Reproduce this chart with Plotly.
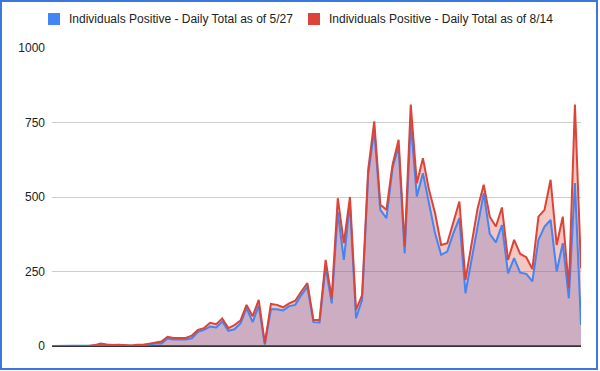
import plotly.graph_objects as go

days = list(range(88))

positive_5_27 = [0, 0, 0, 0, 0, 0, 0, 2, 5, 3, 2, 3, 1, 1, 2, 3, 5, 8, 8, 25,
                 22, 22, 22, 26, 48, 54, 65, 62, 82, 51, 56, 76, 127, 80, 136, 5, 123, 123, 119, 134,
                 138, 171, 199, 80, 79, 266, 143, 450, 289, 480, 93, 155, 574, 725, 457, 429, 597, 670, 311, 750,
                 502, 580, 479, 378, 306, 317, 378, 429, 177, 289, 412, 513, 376, 348, 406, 244, 295, 246, 242, 217,
                 356, 401, 423, 250, 345, 160, 547, 71]

positive_8_14 = [0, 0, 0, 0, 0, 0, 0, 3, 8, 5, 3, 4, 2, 2, 4, 4, 8, 12, 15, 31,
                 27, 27, 27, 35, 54, 60, 78, 73, 92, 60, 70, 85, 138, 100, 155, 9, 141, 138, 130, 143,
                 152, 183, 211, 87, 87, 289, 160, 496, 345, 500, 121, 171, 591, 754, 474, 457, 608, 692, 334, 810,
                 546, 630, 524, 446, 339, 345, 412, 485, 222, 345, 462, 541, 434, 401, 465, 289, 356, 309, 298, 258,
                 434, 457, 558, 339, 434, 194, 810, 261]

series_names = ["Individuals Positive - Daily Total as of 5/27",
                "Individuals Positive - Daily Total as of 8/14"]
y_ticks = [0, 250, 500, 750, 1000]

BLUE = "#4285F4"
RED = "#DB4437"
FONT = "Liberation Sans, Arial, sans-serif"

fig = go.Figure()
# fills first
for vals, fill, name in [(positive_5_27, "rgba(66,133,244,0.3)", series_names[0]),
                         (positive_8_14, "rgba(219,68,55,0.3)", series_names[1])]:
    fig.add_trace(go.Scatter(x=days, y=vals, mode="lines", fill="tozeroy", name=name,
                             fillcolor=fill, line=dict(width=0),
                             showlegend=False, hoverinfo="skip"))
# lines on top
for vals, col, name in [(positive_5_27, BLUE, series_names[0]), (positive_8_14, RED, series_names[1])]:
    fig.add_trace(go.Scatter(x=days, y=vals, mode="lines", name=name,
                             line=dict(color=col, width=2),
                             showlegend=False, hoverinfo="skip"))

W, H = 600, 371
L, R, T, B = 52, 19, 48, 25
pw, ph = W - L - R, H - T - B

def px(x):
    return (x - L) / pw

def py(y):
    return (H - B - y) / ph

# manual legend (squares + real text)
legend_sq_x = [48, 308]
legend_txt_x = [67, 327]
legend_y = 19
shapes = []
annotations = []
for name, col, sx, tx in zip(series_names, [BLUE, RED], legend_sq_x, legend_txt_x):
    shapes.append(dict(type="rect", xref="paper", yref="paper",
                       x0=px(sx), x1=px(sx + 12), y0=py(legend_y + 6), y1=py(legend_y - 6),
                       line=dict(width=0), fillcolor=col))
    annotations.append(dict(xref="paper", yref="paper", x=px(tx), y=py(legend_y),
                            xanchor="left", yanchor="middle", showarrow=False, text=name,
                            font=dict(family=FONT, size=12, color="#222222")))

shapes.append(dict(type="rect", xref="paper", yref="paper",
                   x0=px(1), x1=px(597), y0=py(369), y1=py(1),
                   line=dict(color="#3a78e0", width=2), fillcolor="rgba(0,0,0,0)", layer="above"))

fig.update_layout(
    width=W, height=H,
    margin=dict(l=L, r=R, t=T, b=B, autoexpand=False),
    paper_bgcolor="white", plot_bgcolor="white",
    font=dict(family=FONT, size=12, color="#222222"),
    showlegend=False,
    xaxis=dict(range=[0, 87], showgrid=False, showticklabels=False, zeroline=False,
               showline=False, ticks="", fixedrange=True),
    yaxis=dict(range=[0, 1000], tickvals=y_ticks, ticktext=[str(v) for v in y_ticks],
               showgrid=True, gridcolor="#cccccc", gridwidth=1,
               zeroline=True, zerolinecolor="#333333", zerolinewidth=1.5,
               showline=False, ticks="", ticklabelstandoff=6, fixedrange=True,
               tickfont=dict(size=12, color="#222222")),
    shapes=shapes,
    annotations=annotations,
)

fig.write_html("out.html", config={"displayModeBar": False},
               post_script="document.body.style.margin='0';document.body.style.padding='0';")
